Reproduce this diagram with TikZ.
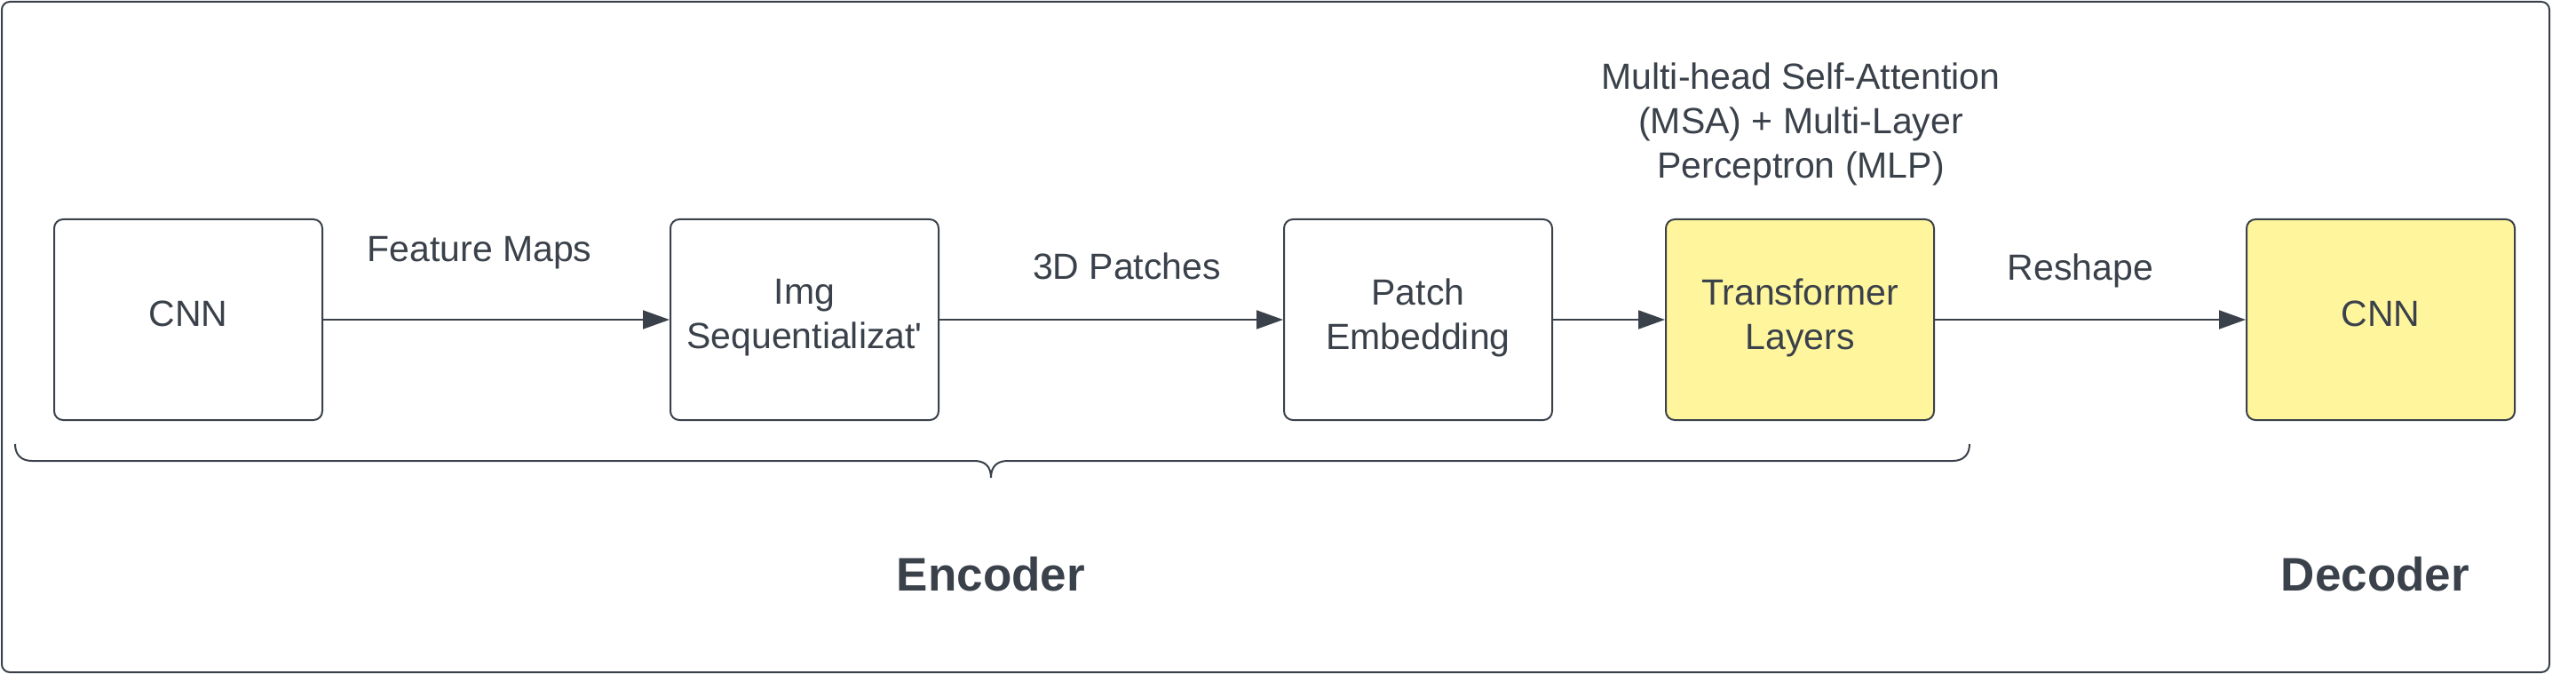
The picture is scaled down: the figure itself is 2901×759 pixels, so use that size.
\documentclass[tikz,border=0pt]{standalone}
\usepackage{fontspec}
\setmainfont{Liberation Sans}
\usetikzlibrary{arrows.meta}
\definecolor{ink}{HTML}{3A414A}
\definecolor{lucidyellow}{HTML}{FFF59D}
\tikzset{
  box/.style={draw=ink, line width=2pt, rounded corners=10pt, minimum width=302pt, minimum height=226pt, inner sep=0pt, align=center, text=ink, text depth=13pt, font=\fontsize{41}{50}\selectfont},
  ybox/.style={box, fill=lucidyellow},
  lbl/.style={text=ink, align=center, inner sep=0pt, font=\fontsize{41}{50}\selectfont},
  title/.style={text=ink, inner sep=0pt, font=\fontsize{53}{60}\selectfont\bfseries},
  conn/.style={draw=ink, line width=2pt, -{Triangle[length=30pt,width=21pt]}},
}
\begin{document}
\begin{tikzpicture}[x=1pt,y=-1pt]
\useasboundingbox (0,0) rectangle (2901,759);
\fill[white] (0,0) rectangle (2901,759);
\draw[ink, line width=2pt, rounded corners=9pt] (2,2) rectangle (2871,757);

\node[box]  (cnn1)  at (212,360)    {CNN};
\node[box]  (img)   at (906,360)    {Img\\Sequentializat\textquotesingle};
\node[box]  (patch) at (1597,360)   {Patch\\Embedding};
\node[ybox] (trans) at (2027,360)   {Transformer\\Layers};
\node[ybox] (cnn2)  at (2681,360)   {CNN};

\draw[conn] (cnn1.east) -- (img.west);
\draw[conn] (img.east) -- (patch.west);
\draw[conn] (patch.east) -- (trans.west);
\draw[conn] (trans.east) -- (cnn2.west);

\node[lbl] (lfm)  at (540,285)  {Feature Maps};
\node[lbl] (l3d)  at (1269,300) {3D Patches};
\node[lbl] (lres) at (2343,305) {Reshape};
\node[lbl] (lmsa) at (2028,140) {Multi-head Self-Attention\\(MSA) + Multi-Layer\\Perceptron (MLP)};

\draw[ink, line width=2pt]
  (17,500) .. controls (17,512) and (24,519) .. (36,519)
  -- (1097,519) .. controls (1109,519) and (1116,525) .. (1116,538)
  .. controls (1116,525) and (1123,519) .. (1135,519)
  -- (2199,519) .. controls (2211,519) and (2218,512) .. (2218,500);

\node[title] (enc) at (1116,647) {Encoder};
\node[title] (dec) at (2675,647) {Decoder};
\end{tikzpicture}
\end{document}
